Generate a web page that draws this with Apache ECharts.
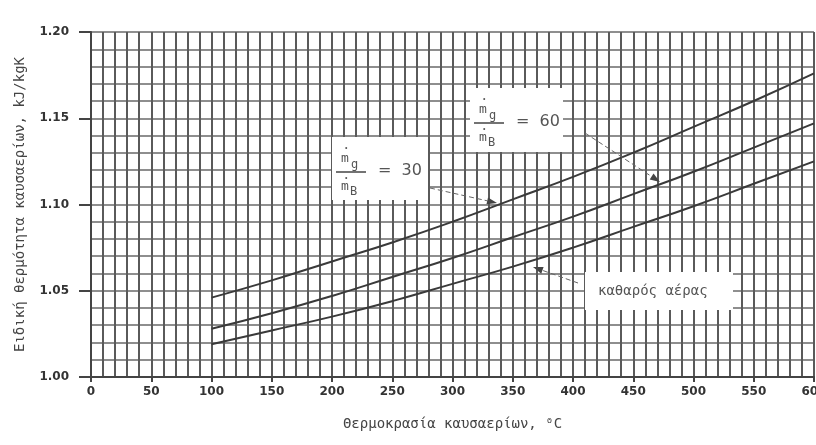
<!DOCTYPE html>
<html>
<head>
<meta charset="utf-8">
<script src="https://cdn.jsdelivr.net/npm/echarts@6/dist/echarts.min.js"></script>
<style>
html,body{margin:0;padding:0;background:#fff;}
#chart{width:816px;height:445px;}
</style>
</head>
<body>
<div id="chart"></div>
<script>
// Data
var temperatures = [100, 150, 200, 250, 300, 350, 400, 450, 500, 550, 600];
var ratio30 = [1.046, 1.056, 1.067, 1.078, 1.090, 1.103, 1.116, 1.130, 1.145, 1.160, 1.176];
var ratio60 = [1.028, 1.037, 1.047, 1.058, 1.069, 1.081, 1.093, 1.106, 1.119, 1.133, 1.147];
var cleanAir = [1.019, 1.027, 1.035, 1.044, 1.054, 1.064, 1.075, 1.087, 1.099, 1.112, 1.125];
var xTitle = 'Θερμοκρασία καυσαερίων, ⁰C';
var yTitle = 'Ειδική θερμότητα καυσαερίων, kJ/kgK';
var labelClean = 'καθαρός αέρας';

function pairs(xs, ys) { return xs.map(function (x, i) { return [x, ys[i]]; }); }

var gridColor = '#5a5a5a';
var lineColor = '#3a3a3a';
var mono = '"DejaVu Sans Mono", "Liberation Mono", monospace';
var labelFont = { fontFamily: '"DejaVu Sans", sans-serif', fontWeight: 'bold', fontSize: 12, color: '#333' };

function series(name, vals) {
  return {
    name: name, type: 'line', data: pairs(temperatures, vals),
    smooth: true, showSymbol: false, silent: true,
    lineStyle: { color: lineColor, width: 2 }, z: 5
  };
}

function fraction(x, y, tail) {
  // x: left of fraction bar, y: bar height
  var c = '#555';
  var f = { fontFamily: mono, fontSize: 13, fill: c };
  var Z = 60;
  return [
    { type: 'text', z: Z, left: x + 9, top: y - 27, style: { text: '•', fontSize: 7, fill: c } },
    { type: 'text', z: Z, left: x + 5, top: y - 20, style: Object.assign({ text: 'm' }, f) },
    { type: 'text', z: Z, left: x + 15, top: y - 13, style: Object.assign({}, f, { text: 'g', fontSize: 12 }) },
    { type: 'line', z: Z, shape: { x1: x, y1: y, x2: x + 30, y2: y }, style: { stroke: '#444', lineWidth: 1.5 } },
    { type: 'text', z: Z, left: x + 9, top: y + 3, style: { text: '•', fontSize: 7, fill: c } },
    { type: 'text', z: Z, left: x + 5, top: y + 8, style: Object.assign({ text: 'm' }, f) },
    { type: 'text', z: Z, left: x + 14, top: y + 14, style: Object.assign({}, f, { text: 'B', fontSize: 12 }) },
    { type: 'text', z: Z, left: x + 42, top: y - 9, style: { text: '=  ' + tail, fontFamily: '"DejaVu Sans", sans-serif', fontSize: 16, fill: c } }
  ];
}

function arrow(x1, y1, x2, y2) {
  var ang = Math.atan2(y2 - y1, x2 - x1);
  var L = 10, W = 3.5;
  var bx = x2 - L * Math.cos(ang), by = y2 - L * Math.sin(ang);
  var px = -Math.sin(ang) * W, py = Math.cos(ang) * W;
  return [
    { type: 'line', shape: { x1: x1, y1: y1, x2: bx, y2: by }, style: { stroke: '#666', lineWidth: 1, lineDash: [5, 3] }, z: 100 },
    { type: 'polygon', shape: { points: [[x2, y2], [bx + px, by + py], [bx - px, by - py]] }, style: { fill: '#444' }, z: 100 }
  ];
}

var graphics = [].concat(
  [{ type: 'rect', shape: { x: 332, y: 137, width: 96, height: 63 }, style: { fill: '#fff' }, z: 50 }],
  fraction(336, 172, '30'),
  [{ type: 'rect', shape: { x: 470, y: 88, width: 93, height: 64 }, style: { fill: '#fff' }, z: 50 }],
  fraction(474, 123, '60'),
  [{ type: 'rect', shape: { x: 585, y: 272, width: 148, height: 38 }, style: { fill: '#fff' }, z: 50 },
   { type: 'text', left: 598, top: 284, style: { text: labelClean, fontFamily: mono, fontSize: 14, fill: '#555' }, z: 60 }],
  arrow(430, 188, 497, 203),
  arrow(585, 133, 660, 182),
  arrow(578, 283, 533, 267)
);

var chart = echarts.init(document.getElementById('chart'), null, { renderer: 'canvas' });
chart.setOption({
  animation: false,
  backgroundColor: '#fff',
  grid: { left: 91, right: 2, top: 32, bottom: 68, containLabel: false, outerBoundsMode: 'none' },
  xAxis: {
    type: 'value', min: 0, max: 600, interval: 50,
    name: xTitle, nameLocation: 'middle', nameGap: 40,
    nameTextStyle: { fontFamily: mono, fontSize: 14, color: '#444' },
    axisLine: { show: true, lineStyle: { color: '#444', width: 2 } },
    axisTick: { show: true, length: 5, lineStyle: { color: '#444', width: 2 } },
    axisLabel: Object.assign({ margin: 9, hideOverlap: false }, labelFont),
    splitLine: { show: true, lineStyle: { color: gridColor, width: 2 } },
    minorTick: { show: false, splitNumber: 5 },
    minorSplitLine: { show: true, lineStyle: { color: gridColor, width: 2 } }
  },
  yAxis: {
    type: 'value', min: 1.0, max: 1.2, interval: 0.05,
    name: yTitle, nameLocation: 'middle', nameGap: 64, nameRotate: 90,
    nameTextStyle: { fontFamily: mono, fontSize: 14, color: '#444' },
    axisLine: { show: true, lineStyle: { color: '#444', width: 2 } },
    axisTick: { show: true, length: 12, lineStyle: { color: '#444', width: 2 } },
    axisLabel: Object.assign({ margin: 22, formatter: function (v) { return v.toFixed(2); } }, labelFont),
    splitLine: { show: true, lineStyle: { color: '#6a6a6a', width: 1.5 } },
    minorTick: { show: false, splitNumber: 5 },
    minorSplitLine: { show: true, lineStyle: { color: '#6a6a6a', width: 1.5 } }
  },
  series: [
    series('m_g/m_B = 30', ratio30),
    series('m_g/m_B = 60', ratio60),
    series(labelClean, cleanAir)
  ],
  graphic: graphics
});
</script>
</body>
</html>
